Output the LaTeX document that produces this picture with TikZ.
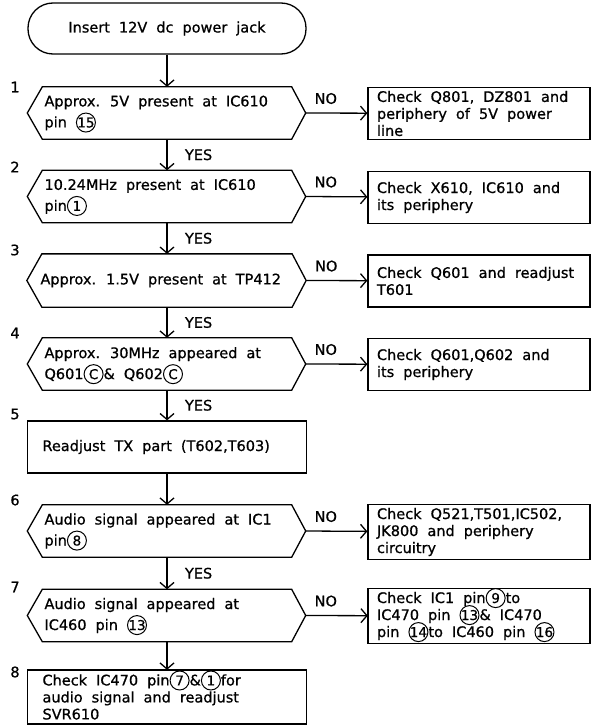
\documentclass[tikz,border=0pt]{standalone}
\usepackage{fontspec}
\newfontfamily\chartfont{DejaVu Sans}[FakeBold=0.8]
\usetikzlibrary{arrows.meta}

% circled pin number, the circle does not take up line space
\newcommand\pinc[1]{\tikz[baseline=(pc.base)]{\node[shape=rectangle,draw=none,text width={},
    minimum width=20pt,minimum height=0pt,inner xsep=0pt,inner ysep=0pt,
    font=\chartfont\fontsize{13.5}{13.5}\selectfont] (pc) {#1};
    \draw[line width=1pt,overlay] (pc.center) circle (9.5pt);}}

\begin{document}
\begin{tikzpicture}[x=1pt,y=-1pt,line width=1.3pt,
            every node/.style={font=\chartfont\fontsize{14.5}{17}\selectfont,
                execute at begin node={\spaceskip=9pt plus 1pt minus 1pt\xspaceskip=10pt
                    \hyphenpenalty=10000\relax}},
            start/.style={draw,rounded corners=25pt,minimum width=278pt,
                minimum height=51pt,inner sep=0pt},
            test/.style={text width=245pt,inner xsep=2pt,minimum height=52pt,
                align=left,font=\chartfont\fontsize{14.5}{21}\selectfont},
            fix/.style={draw,text width=204pt,inner xsep=9pt,minimum height=52pt,
                align=left},
            job/.style={draw,text width=249pt,inner xsep=15pt,minimum height=52pt,
                align=left},
            flow/.style={-{Straight Barb[length=6pt,width=14pt]}},
            yes/.style={anchor=west,xshift=14pt},
            no/.style={pos=0,anchor=south west,xshift=5pt,yshift=5pt}]
    \useasboundingbox (0,0) rectangle (592,725);

    \node[start] (s) at (167,28.5) {Insert 12V dc power jack};
    \node[test] (t1) at (167,113) {Approx. 5V present at IC610\\pin \pinc{15}};
    \node[test] (t2) at (167,196.5) {10.24MHz present at IC610\\pin\pinc{1}};
    \node[test] (t3) at (167,280.5) {\hspace*{-4pt}Approx. 1.5V present at TP412};
    \node[test] (t4) at (167,364) {Approx. 30MHz appeared at\\Q601\pinc{C}\& Q602\pinc{C}};
    \node[job] (j5) at (167,447) {Readjust TX part (T602,T603)};
    \node[test] (t6) at (167,531) {Audio signal appeared at IC1\\pin\pinc{8}};
    \node[test] (t7) at (167,615.5) {Audio signal appeared at\\IC460 pin \pinc{13}};
    \node[job,minimum height=54pt] (j8) at (167,697) {Check IC470 pin\pinc{7}\&\pinc{1}for\\audio signal and readjust\\SVR610};

    \node[fix] (c1) at (479,113.5) {Check Q801, DZ801 and\\periphery of 5V power\\line};
    \node[fix] (c2) at (479,197.5) {Check X610, IC610 and\\its periphery};
    \node[fix] (c3) at (479,281) {Check Q601 and readjust\\T601};
    \node[fix] (c4) at (479,364.5) {Check Q601,Q602 and\\its periphery};
    \node[fix] (c6) at (479,532) {Check Q521,T501,IC502,\\JK800 and periphery\\circuitry};
    \node[fix] (c7) at (479,616) {Check IC1 pin\pinc{9}to\\IC470 pin \pinc{13}\& IC470\\pin \pinc{14}to IC460 pin \pinc{16}};

    \foreach \t in {t1,t2,t3,t4,t6,t7}
        \draw (\t.north west) -- (\t.north east) -- ([xshift=14pt]\t.east) coordinate (\t-r)
            -- (\t.south east) -- (\t.south west) -- ([xshift=-15pt]\t.west) -- cycle;

    \foreach \n/\y in {1/87,2/167,3/250,4/333,5/414,6/500,7/587,8/672}
        \node (n\n) at (15,\y) {\n};

    \draw[flow] (s) -- (t1);
    \draw[flow] (t1) -- node[yes] {YES} (t2);
    \draw[flow] (t2) -- node[yes] {YES} (t3);
    \draw[flow] (t3) -- node[yes] {YES} (t4);
    \draw[flow] (t4) -- node[yes] {YES} (j5);
    \draw[flow] (j5) -- (t6);
    \draw[flow] (t6) -- node[yes] {YES} (t7);
    \draw[flow] (t7) -- (j8);

    \foreach \t/\c in {t1/c1,t2/c2,t3/c3,t4/c4,t6/c6,t7/c7}
        \draw[flow] (\t-r) -- node[no] {NO} (\c);
\end{tikzpicture}
\end{document}
